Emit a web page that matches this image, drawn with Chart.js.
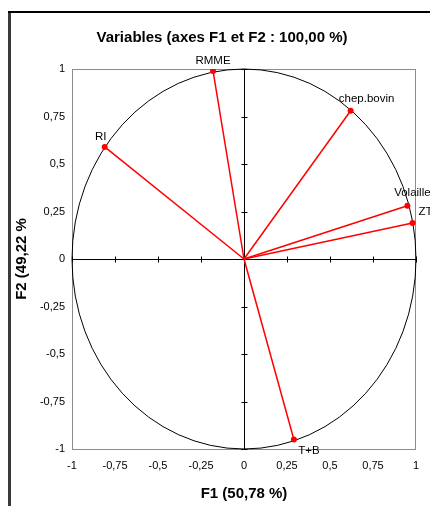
<!DOCTYPE html>
<html><head><meta charset="utf-8">
<script src="https://cdn.jsdelivr.net/npm/chart.js@4/dist/chart.umd.min.js"></script>
<style>html,body{margin:0;padding:0;background:#fff}#wrap{width:430px;height:506px;position:relative}canvas{display:block}</style>
</head><body><div id="wrap"><canvas id="c" width="430" height="506"></canvas></div>
<script>
const variables = ['RMME', 'chep.bovin', 'RI', 'Volaille', 'ZT', 'T+B'];
const f1Values = [-0.18, 0.62, -0.81, 0.95, 0.98, 0.29];
const f2Values = [0.99, 0.78, 0.59, 0.28, 0.19, -0.95];
const xTickLabels = ['-1', '-0,75', '-0,5', '-0,25', '0', '0,25', '0,5', '0,75', '1'];
const yTickLabels = ['-1', '-0,75', '-0,5', '-0,25', '0', '0,25', '0,5', '0,75', '1'];
const chartTitle = 'Variables (axes F1 et F2 : 100,00 %)';
const xAxisTitle = 'F1 (50,78 %)';
const yAxisTitle = 'F2 (49,22 %';

// label offsets in pixels (style only)
const labelOffsets = [[0, -10], [16, -12], [-4, -10], [5, -13], [13, -11], [15, 11]];

const FONT = "'Liberation Sans', Arial, sans-serif";

const datasets = variables.map((name, i) => ({
  label: name,
  data: [{x: 0, y: 0}, {x: f1Values[i], y: f2Values[i]}],
  showLine: true,
  borderColor: '#ff0000',
  borderWidth: 1.5,
  pointRadius: [0, 3],
  pointBackgroundColor: '#ff0000',
  pointBorderColor: '#ff0000',
  pointBorderWidth: 0,
  pointHoverRadius: [0, 3]
}));

const decor = {
  id: 'decor',
  beforeDraw(chart) {
    const ctx = chart.ctx;
    ctx.save();
    ctx.fillStyle = '#fff';
    ctx.fillRect(0, 0, chart.width, chart.height);
    // outer frame
    ctx.fillStyle = '#3a3a3a';
    ctx.fillRect(8, 11, 3, chart.height - 11);
    ctx.fillStyle = '#000';
    ctx.fillRect(8, 11, chart.width - 8, 2);
    // title
    ctx.fillStyle = '#000';
    ctx.font = 'bold 15px ' + FONT;
    ctx.textAlign = 'center';
    ctx.textBaseline = 'middle';
    ctx.fillText(chartTitle, 222, 38);
    ctx.restore();
  },
  beforeDatasetsDraw(chart) {
    const ctx = chart.ctx;
    const a = chart.chartArea;
    const xs = chart.scales.x, ys = chart.scales.y;
    ctx.save();
    // plot area border
    ctx.strokeStyle = '#8c8c8c';
    ctx.lineWidth = 1;
    ctx.strokeRect(Math.round(a.left) + 0.5, Math.round(a.top) + 0.5, Math.round(a.right - a.left) - 1, Math.round(a.bottom - a.top));
    // central axes
    const cx = Math.round(xs.getPixelForValue(0)) + 0.5;
    const cy = Math.round(ys.getPixelForValue(0)) + 0.5;
    ctx.strokeStyle = '#000';
    ctx.beginPath();
    ctx.moveTo(a.left, cy); ctx.lineTo(a.right, cy);
    ctx.moveTo(cx, a.top); ctx.lineTo(cx, a.bottom);
    xs.ticks.forEach(t => {
      const px = Math.round(xs.getPixelForValue(t.value)) + 0.5;
      ctx.moveTo(px, cy - 3); ctx.lineTo(px, cy + 3);
    });
    ys.ticks.forEach(t => {
      const py = Math.round(ys.getPixelForValue(t.value)) + 0.5;
      ctx.moveTo(cx - 3, py); ctx.lineTo(cx + 3, py);
    });
    ctx.stroke();
    // correlation circle
    const rx = xs.getPixelForValue(1) - xs.getPixelForValue(0);
    const ry = ys.getPixelForValue(0) - ys.getPixelForValue(1);
    ctx.beginPath();
    ctx.ellipse(xs.getPixelForValue(0), ys.getPixelForValue(0), rx, ry, 0, 0, Math.PI * 2);
    ctx.strokeStyle = '#000';
    ctx.lineWidth = 1;
    ctx.stroke();
    ctx.restore();
  },
  afterDatasetsDraw(chart) {
    const ctx = chart.ctx;
    const xs = chart.scales.x, ys = chart.scales.y;
    ctx.save();
    ctx.font = '11.5px ' + FONT;
    ctx.fillStyle = '#000';
    ctx.textAlign = 'center';
    ctx.textBaseline = 'middle';
    variables.forEach((name, i) => {
      const px = xs.getPixelForValue(f1Values[i]) + labelOffsets[i][0];
      const py = ys.getPixelForValue(f2Values[i]) + labelOffsets[i][1];
      ctx.fillText(name, px, py);
    });
    ctx.restore();
  }
};

new Chart(document.getElementById('c'), {
  type: 'scatter',
  data: { datasets },
  options: {
    responsive: false,
    animation: false,
    devicePixelRatio: 1,
    layout: { padding: { left: 10, top: 69, right: 14, bottom: 0 } },
    plugins: { legend: { display: false }, tooltip: { enabled: false }, title: { display: false } },
    scales: {
      x: {
        type: 'linear', position: 'bottom', min: -1, max: 1,
        ticks: { stepSize: 0.25, maxRotation: 0, autoSkip: false, padding: 10, color: '#000',
          font: { family: FONT, size: 11 },
          callback: (v, i) => xTickLabels[i] },
        grid: { display: false, drawTicks: false },
        border: { display: false },
        title: { display: true, text: xAxisTitle, color: '#000', font: { family: FONT, size: 15, weight: 'bold' }, padding: { top: 0, bottom: 3 } },
        afterFit: s => { s.height = 57; }
      },
      y: {
        type: 'linear', position: 'left', min: -1, max: 1,
        ticks: { stepSize: 0.25, autoSkip: false, padding: 7, color: '#000',
          font: { family: FONT, size: 11 },
          callback: (v, i) => yTickLabels[i] },
        grid: { display: false, drawTicks: false },
        border: { display: false },
        title: { display: true, text: yAxisTitle, color: '#000', font: { family: FONT, size: 15, weight: 'bold' }, padding: { top: 3, bottom: 0 } },
        afterFit: s => { s.width = 62; }
      }
    }
  },
  plugins: [decor]
});
</script>
</body></html>
